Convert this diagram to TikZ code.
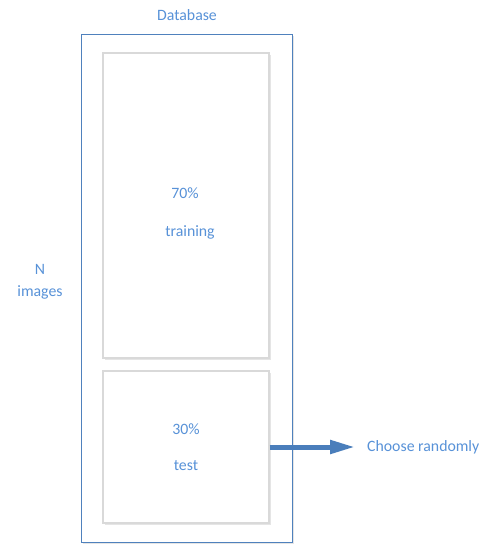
\documentclass[tikz,border=0pt]{standalone}
\usepackage{fontspec}
\setmainfont{Carlito}
\usepackage{tikz}
\usetikzlibrary{arrows.meta,positioning,shadows}
\definecolor{txtblue}{RGB}{88,146,216}
\definecolor{boxblue}{RGB}{79,129,189}
\definecolor{arrblue}{RGB}{74,126,187}
\tikzset{
  part/.style={draw=black!15,line width=1.2pt,fill=white,
    drop shadow={shadow xshift=1.5pt,shadow yshift=-1.5pt,fill=black!10,opacity=1}},
  lbl/.style={text=txtblue,inner sep=0pt}
}

\begin{document}
\begin{tikzpicture}[x=1pt,y=-1pt,font=\fontsize{15.8}{19}\selectfont]
\useasboundingbox[fill=white] (0,0) rectangle (489,552);
\node[draw=boxblue,line width=.8pt,fill=white,minimum width=211pt,minimum height=508pt,
  drop shadow={shadow xshift=1.5pt,shadow yshift=-1.5pt,fill=black!10,opacity=1}] (db) at (186.5,288) {};
\node[part,minimum width=166pt,minimum height=305pt] (train) at (186,205.5) {};
\node[part,minimum width=166pt,minimum height=152pt] (test) at (186,447) {};
\node[lbl] (dbname) at (187,15) {Database};
\node[lbl,align=center] (nimg) at (40,282) {N\\[3pt]images};
\node[lbl] (p70) at (185,193) {70\%};
\node[lbl] (trn) at (190,232) {training};
\node[lbl] (p30) at (186,429) {30\%};
\node[lbl] (tst) at (186,466) {test};
\node[lbl,anchor=west] (choose) at (367,447) {Choose randomly};
\draw[arrblue,line width=5pt,-{Triangle[length=25pt,width=13pt]},shorten >=12pt] (test.east) -- (choose.west);
\end{tikzpicture}
\end{document}
